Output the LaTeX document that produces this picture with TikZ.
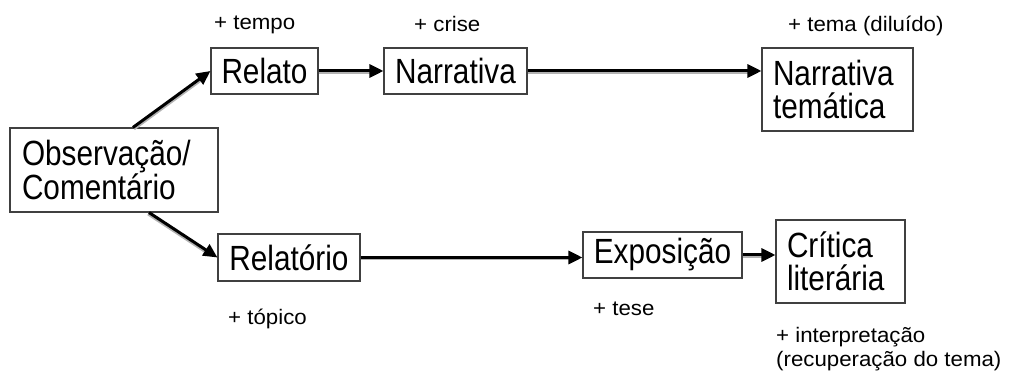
\documentclass[tikz,border=0pt]{standalone}
\usepackage{fontspec}
\setmainfont{Liberation Sans}
\newfontfamily\fonteCaixa[FakeStretch=0.85]{Liberation Sans}
\newfontfamily\fonteRotulo[FakeStretch=1.06]{Liberation Sans}
\usetikzlibrary{arrows.meta, positioning}

\tikzset{
  caixa/.style={draw=black!75, line width=1.1pt, inner sep=0pt, align=left, font=\fonteCaixa\fontsize{35}{33}\selectfont},
  rotulo/.style={inner sep=0pt, anchor=base west, align=left, font=\fonteRotulo\fontsize{21}{24}\selectfont},
  seta/.style={line width=3pt, -{Triangle[length=14pt,width=13pt]}},
  sombra/.style={line width=2pt, gray!60, shorten >=8pt},
}

\begin{document}
\begin{tikzpicture}[x=1pt, y=-1pt]
        \useasboundingbox (0,0) rectangle (1017,371);

        % Caixas
        \node[caixa, minimum height=84pt, inner xsep=12pt, text width=184pt] (obs) at (114,170) {Observação/\\Comentário};
        \node[caixa, minimum width=107pt, minimum height=46pt] (relato) at (264.5,71) {Relato};
        \node[caixa, minimum width=143pt, minimum height=46pt] (narr) at (455.5,71) {Narrativa};
        \node[caixa, minimum height=83pt, inner xsep=11pt, text width=129pt] (narrtem) at (837.5,89.5) {Narrativa\\temática};
        \node[caixa, minimum width=142pt, minimum height=47pt] (relat) at (289,257.5) {Relatório};
        \node[caixa, minimum width=159pt, minimum height=46pt] (expo) at (662.5,255) {Exposição};
        \node[caixa, minimum height=83pt, inner xsep=11pt, text width=107pt] (crit) at (840.5,261.5) {Crítica\\literária};

        % Acrescimos
        \node[rotulo] (ltempo) at (214,30) {+ tempo};
        \node[rotulo] (lcrise) at (414,32) {+ crise};
        \node[rotulo] (ltema) at (788,32) {+ tema (diluído)};
        \node[rotulo] (ltopico) at (228,324) {+ tópico};
        \node[rotulo] (ltese) at (593,316) {+ tese};
        \node[rotulo] (linterp) at (776,366) {+ interpretação\\(recuperação do tema)};

        % Setas diagonais
        \draw[sombra] ([shift={(20.3pt,-1.8pt)}]obs.north) -- ([shift={(1.3pt,-1.8pt)}]relato.west);
        \draw[seta] ([xshift=19pt]obs.north) -- (relato.west);
        \draw[sombra] ([shift={(33.8pt,-1.8pt)}]obs.south) -- ([shift={(-1.2pt,-1.8pt)}]relat.west);
        \draw[seta] ([xshift=35pt]obs.south) -- (relat.west);

        % Setas horizontais
        \foreach \a/\b in {relato/narr, narr/narrtem, relat/expo, expo/crit} {
            \draw[sombra] ([yshift=-2pt]\a.east) -- ([yshift=-2pt]\a.east -| \b.west);
            \draw[seta] (\a.east) -- (\a.east -| \b.west);
        }
\end{tikzpicture}
\end{document}
